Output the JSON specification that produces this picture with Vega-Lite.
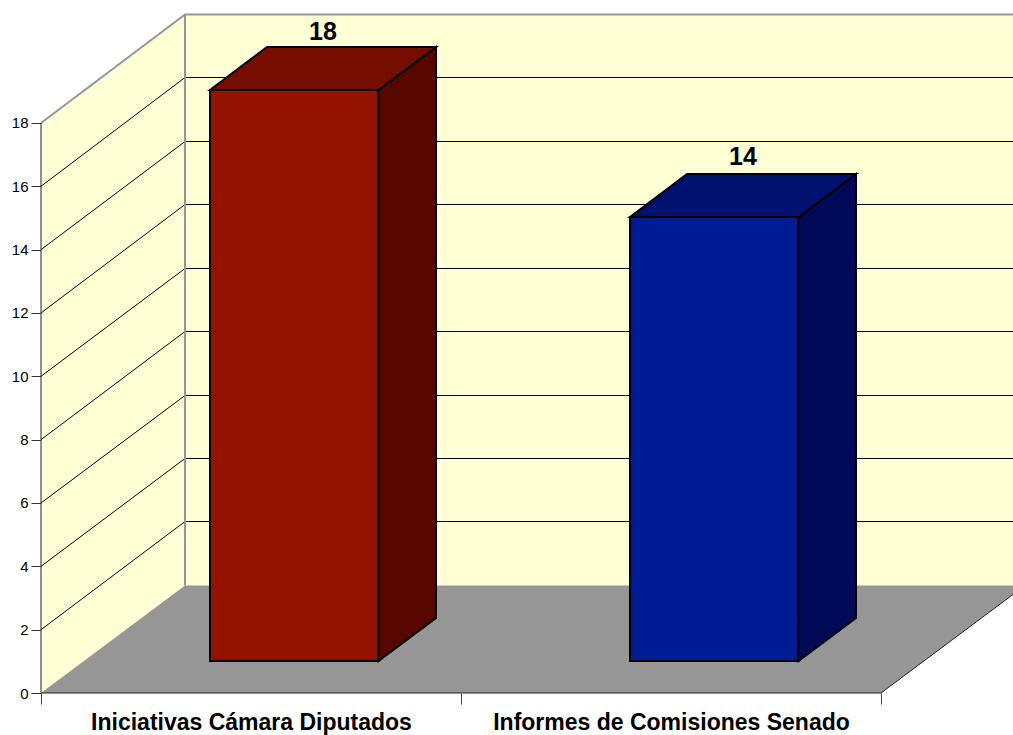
{
"$schema":"https://vega.github.io/schema/vega-lite/v6.json",
"width":972,"height":693,
"autosize":"none",
"padding":{"left":41,"top":0,"right":0,"bottom":42},
"background":"white",
"config":{"view":{"stroke":null},"font":"Liberation Sans"},
"datasets":{
"walls":[
{"face":"back","x":0.3429,"y":21.424,"y2":3.394},
{"face":"back","x":2.3143,"y":21.424,"y2":3.394},
{"face":"left","x":0,"y":18,"y2":0},
{"face":"left","x":0.3429,"y":21.424,"y2":3.394}],
"floor":[
{"y":0,"x":0,"x2":2},
{"y":3.394,"x":0.3429,"x2":2.3429}],
"grid":[
{"v":2,"x":0,"y":2},{"v":2,"x":0.3429,"y":5.415},{"v":2,"x":2.3143,"y":5.415},
{"v":4,"x":0,"y":4},{"v":4,"x":0.3429,"y":7.405},{"v":4,"x":2.3143,"y":7.405},
{"v":6,"x":0,"y":6},{"v":6,"x":0.3429,"y":9.394},{"v":6,"x":2.3143,"y":9.394},
{"v":8,"x":0,"y":8},{"v":8,"x":0.3429,"y":11.415},{"v":8,"x":2.3143,"y":11.415},
{"v":10,"x":0,"y":10},{"v":10,"x":0.3429,"y":13.404},{"v":10,"x":2.3143,"y":13.404},
{"v":12,"x":0,"y":12},{"v":12,"x":0.3429,"y":15.425},{"v":12,"x":2.3143,"y":15.425},
{"v":14,"x":0,"y":14},{"v":14,"x":0.3429,"y":17.414},{"v":14,"x":2.3143,"y":17.414},
{"v":16,"x":0,"y":16},{"v":16,"x":0.3429,"y":19.435},{"v":16,"x":2.3143,"y":19.435}],
"edges":[
{"e":"top","x":0,"y":18},{"e":"top","x":0.3429,"y":21.424},{"e":"top","x":2.3143,"y":21.424},
{"e":"corner","x":0.3429,"y":21.424},{"e":"corner","x":0.3429,"y":3.394}],
"frame":[
{"e":"yaxis","x":0,"y":0},{"e":"yaxis","x":0,"y":18},
{"e":"xaxis","x":0,"y":0},{"e":"xaxis","x":2,"y":0},
{"e":"slant","x":2,"y":0},{"e":"slant","x":2.3429,"y":3.394}],
"faces":[
{"face":"redFront","x":0.4024,"y":19.04,"y2":1.01},
{"face":"redFront","x":0.8036,"y":19.04,"y2":1.01},
{"face":"redSide","x":0.8036,"y":19.04,"y2":1.01},
{"face":"redSide","x":0.9405,"y":20.398,"y2":2.368},
{"face":"blueFront","x":1.4024,"y":15.03,"y2":1.01},
{"face":"blueFront","x":1.8036,"y":15.03,"y2":1.01},
{"face":"blueSide","x":1.8036,"y":15.03,"y2":1.01},
{"face":"blueSide","x":1.9405,"y":16.388,"y2":2.368}],
"tops":[
{"face":"redTop","y":19.04,"x":0.4024,"x2":0.8036},
{"face":"redTop","y":20.398,"x":0.5381,"x2":0.9405},
{"face":"blueTop","y":15.03,"x":1.4024,"x2":1.8036},
{"face":"blueTop","y":16.388,"x":1.5381,"x2":1.9405}],
"labels":[
{"x":0.6714,"y":20.872,"value":18},
{"x":1.6714,"y":16.925,"value":14}]
},
"layer":[
{"data":{"name":"walls"},
 "mark":{"type":"area","orient":"vertical"},
 "encoding":{
  "x":{"field":"x","type":"quantitative","scale":{"domain":[0,2.3143],"nice":false,"zero":false},
   "axis":{"title":null,"grid":false,"domain":false,"values":[0,0.5,1,1.5,2],"tickSize":11,"tickColor":"#444444","tickWidth":1,
    "tickOpacity":{"condition":{"test":"datum.value==0.5||datum.value==1.5","value":0},"value":1},
    "labelExpr":"datum.value==0.5?'Iniciativas Cámara Diputados':datum.value==1.5?'Informes de Comisiones Senado':''",
    "labelFont":"Liberation Sans","labelFontSize":23,"labelFontWeight":"bold","labelColor":"black","labelPadding":7,"labelLimit":500,"labelOverlap":false,"labelBound":false,"labelFlush":false}},
  "y":{"field":"y","type":"quantitative","scale":{"domain":[0,21.882],"nice":false,"zero":false},
   "axis":{"title":null,"grid":false,"domain":false,"values":[0,2,4,6,8,10,12,14,16,18],"tickSize":10,"tickColor":"#333333","tickWidth":1,
    "labelFont":"Liberation Sans","labelFontSize":15,"labelColor":"black","labelPadding":3,"labelOverlap":false,"labelBound":false,"labelFlush":false}},
  "y2":{"field":"y2"},
  "fill":{"field":"face","type":"nominal","legend":null,"scale":{"domain":["back","left"],"range":["#FFFFD5","#FFFFD5"]}}
 }},
{"data":{"name":"floor"},
 "mark":{"type":"area","orient":"horizontal","color":"#969696"},
 "encoding":{"y":{"field":"y","type":"quantitative"},"x":{"field":"x","type":"quantitative"},"x2":{"field":"x2"}}},
{"data":{"name":"grid"},
 "mark":{"type":"line","color":"black","strokeWidth":1},
 "encoding":{"x":{"field":"x","type":"quantitative"},"y":{"field":"y","type":"quantitative"},"detail":{"field":"v"}}},
{"data":{"name":"edges"},
 "mark":{"type":"line","color":"#969696","strokeWidth":2},
 "encoding":{"x":{"field":"x","type":"quantitative"},"y":{"field":"y","type":"quantitative"},"detail":{"field":"e"}}},
{"data":{"name":"frame"},
 "mark":{"type":"line","color":"#222222","strokeWidth":1},
 "encoding":{"x":{"field":"x","type":"quantitative"},"y":{"field":"y","type":"quantitative"},"detail":{"field":"e"}}},
{"data":{"name":"faces"},
 "mark":{"type":"area","orient":"vertical","stroke":"black","strokeWidth":2,"strokeJoin":"miter"},
 "encoding":{"x":{"field":"x","type":"quantitative"},"y":{"field":"y","type":"quantitative"},"y2":{"field":"y2"},
  "fill":{"field":"face","type":"nominal","legend":null,"scale":{"domain":["redFront","redSide","blueFront","blueSide"],"range":["#941300","#560700","#001C94","#000A56"]}}}},
{"data":{"name":"tops"},
 "mark":{"type":"area","orient":"horizontal","stroke":"black","strokeWidth":2,"strokeJoin":"miter"},
 "encoding":{"y":{"field":"y","type":"quantitative"},"x":{"field":"x","type":"quantitative"},"x2":{"field":"x2"},
  "fill":{"field":"face","type":"nominal","legend":null,"scale":{"domain":["redTop","blueTop"],"range":["#750D00","#00116F"]}}}},
{"data":{"name":"labels"},
 "mark":{"type":"text","font":"Liberation Sans","fontSize":25,"fontWeight":"bold","color":"black","align":"center","baseline":"middle"},
 "encoding":{"x":{"field":"x","type":"quantitative"},"y":{"field":"y","type":"quantitative"},"text":{"field":"value","type":"quantitative"}}}
],
"resolve":{"scale":{"fill":"independent"}}
}
